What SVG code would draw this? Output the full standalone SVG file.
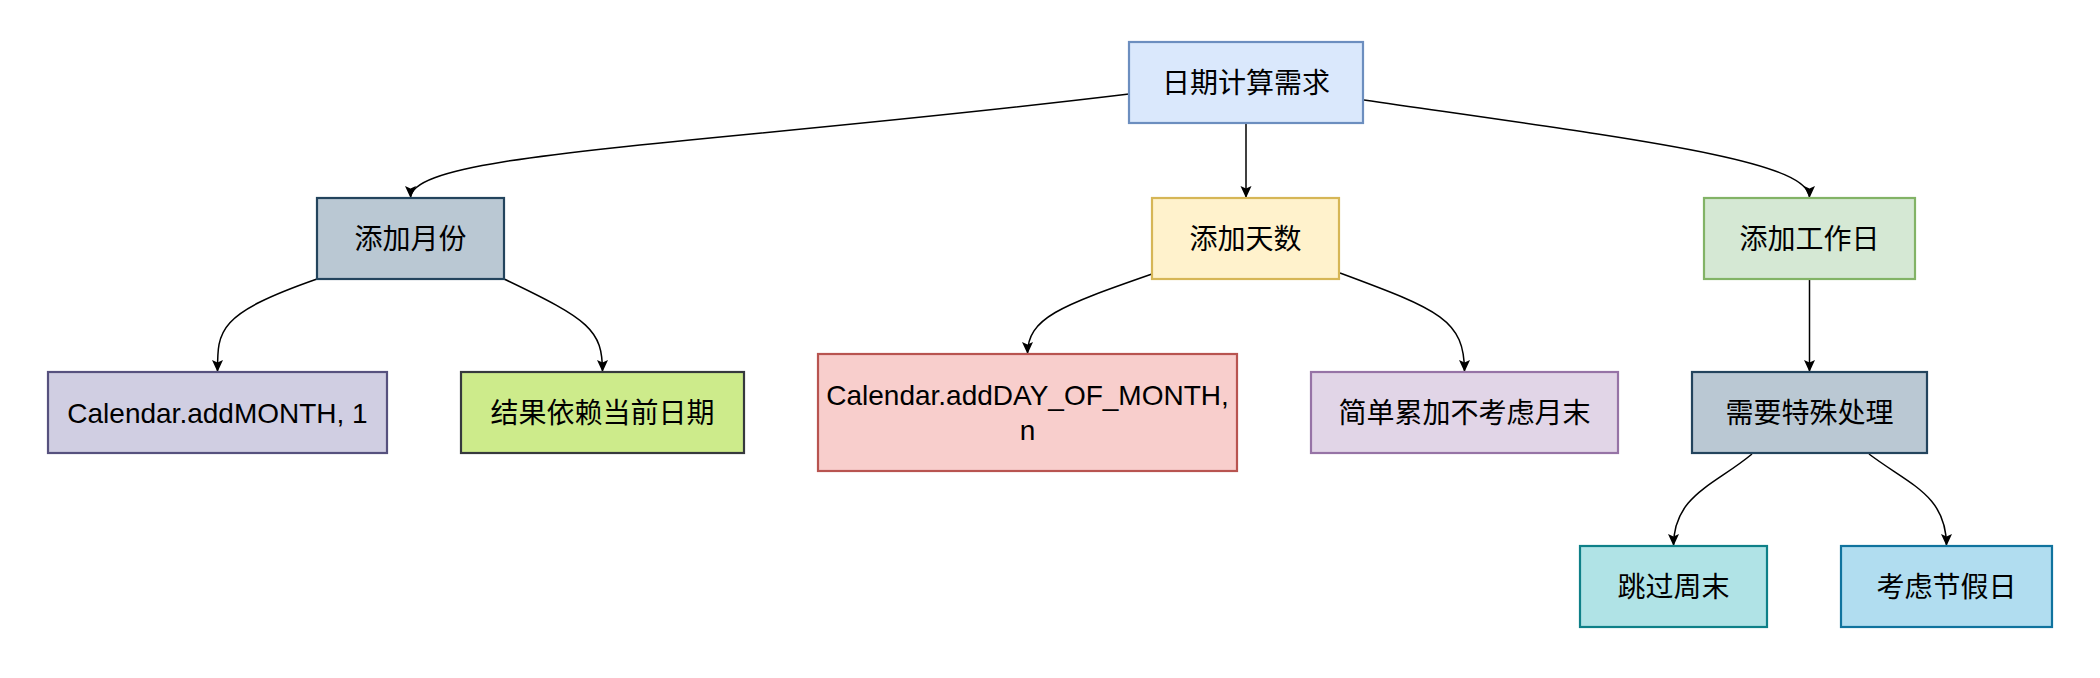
<svg xmlns="http://www.w3.org/2000/svg" width="2100" height="678" viewBox="0 0 2100 678">
<style>
  .box { stroke-width: 2.2; }
  .lbl { font-family: 'Liberation Sans', 'Noto Sans CJK SC', sans-serif; font-size: 28px; fill: #000; text-anchor: middle; }
  .edge { fill: none; stroke: #000; stroke-width: 1.5; marker-end: url(#arrow); }
</style>
<defs>
  <marker id="arrow" markerUnits="userSpaceOnUse" markerWidth="12" markerHeight="12" viewBox="0 0 12 12" refX="12" refY="6" orient="auto">
    <path d="M0,0.5 L12,6 L0,11.5 L2.5,6 Z" fill="#000"/>
  </marker>
</defs>
<rect width="2100" height="678" fill="#ffffff"/>
<g id="connectors">
  <path class="edge" d="M1129,94 C700,146 410.5,152 410.5,198"/>
  <path class="edge" d="M1246,123 L1246,198"/>
  <path class="edge" d="M1364,100 C1640,140 1809.5,160 1809.5,198"/>
  <path class="edge" d="M317,279 C217,314 217.5,330 217.5,372"/>
  <path class="edge" d="M504,279 C590,320 602.5,330 602.5,372"/>
  <path class="edge" d="M1152,274 C1060,306 1027.5,318 1027.5,354"/>
  <path class="edge" d="M1340,273 C1440,310 1464.5,320 1464.5,372"/>
  <path class="edge" d="M1809.5,279 L1809.5,372"/>
  <path class="edge" d="M1752,454 C1715,485 1673.5,495 1673.5,546"/>
  <path class="edge" d="M1869,454 C1910,485 1946.5,495 1946.5,546"/>
</g>
<g id="n-root">
  <rect class="box" x="1129" y="42" width="234" height="81" fill="#dae8fc" stroke="#6c8ebf"/>
  <text class="lbl" x="1246" y="92.5">日期计算需求</text>
</g>
<g id="n-month">
  <rect class="box" x="317" y="198" width="187" height="81" fill="#bac8d3" stroke="#23445d"/>
  <text class="lbl" x="410.5" y="248.5">添加月份</text>
</g>
<g id="n-days">
  <rect class="box" x="1152" y="198" width="187" height="81" fill="#fff2cc" stroke="#d6b656"/>
  <text class="lbl" x="1245.5" y="248.5">添加天数</text>
</g>
<g id="n-workday">
  <rect class="box" x="1704" y="198" width="211" height="81" fill="#d5e8d4" stroke="#82b366"/>
  <text class="lbl" x="1809.5" y="248.5">添加工作日</text>
</g>
<g id="n-addmonth">
  <rect class="box" x="48" y="372" width="339" height="81" fill="#d0cee2" stroke="#56517e"/>
  <text class="lbl" x="217.5" y="422.5">Calendar.addMONTH, 1</text>
</g>
<g id="n-result">
  <rect class="box" x="461" y="372" width="283" height="81" fill="#cdeb8b" stroke="#36393d"/>
  <text class="lbl" x="602.5" y="422.5">结果依赖当前日期</text>
</g>
<g id="n-addday">
  <rect class="box" x="818" y="354" width="419" height="117" fill="#f8cecc" stroke="#b85450"/>
  <text class="lbl" x="1027.5" y="405">Calendar.addDAY_OF_MONTH,</text>
  <text class="lbl" x="1027.5" y="440">n</text>
</g>
<g id="n-simple">
  <rect class="box" x="1311" y="372" width="307" height="81" fill="#e1d5e7" stroke="#9673a6"/>
  <text class="lbl" x="1464.5" y="422.5">简单累加不考虑月末</text>
</g>
<g id="n-special">
  <rect class="box" x="1692" y="372" width="235" height="81" fill="#bac8d3" stroke="#23445d"/>
  <text class="lbl" x="1809.5" y="422.5">需要特殊处理</text>
</g>
<g id="n-skip">
  <rect class="box" x="1580" y="546" width="187" height="81" fill="#b0e3e6" stroke="#0e8088"/>
  <text class="lbl" x="1673.5" y="596.5">跳过周末</text>
</g>
<g id="n-holiday">
  <rect class="box" x="1841" y="546" width="211" height="81" fill="#b1ddf0" stroke="#10739e"/>
  <text class="lbl" x="1946.5" y="596.5">考虑节假日</text>
</g>
</svg>
